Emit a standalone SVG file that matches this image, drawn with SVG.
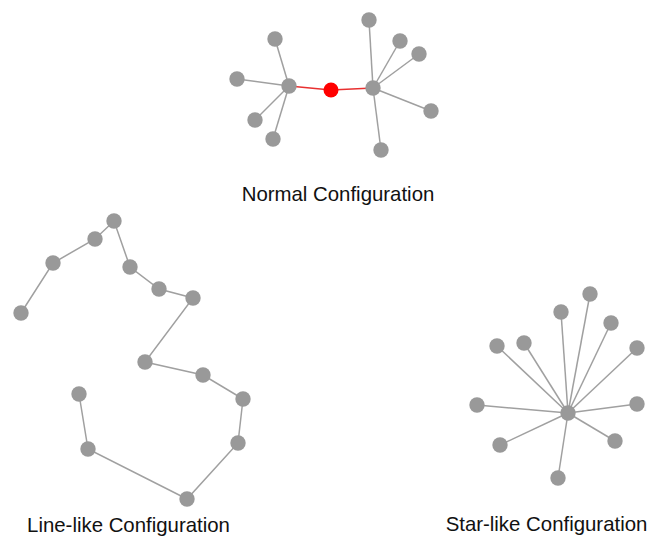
<svg xmlns="http://www.w3.org/2000/svg" width="650" height="538" viewBox="0 0 650 538">
<style>
.e{stroke:#a0a0a0;stroke-width:1.5;fill:none}
.r{stroke:#e83030;stroke-width:1.3}
.n{fill:#999999}
.rn{fill:#ff0000}
.t{font-family:"Liberation Sans",Arial,sans-serif;font-size:20.4px;fill:#111;text-anchor:middle}
</style>
<rect width="650" height="538" fill="#ffffff"/>
<g id="connectors">
<line class="r" x1="289" y1="86" x2="331" y2="90"/>
<line class="r" x1="331" y1="90" x2="373" y2="88"/>
<line class="e" x1="289" y1="86" x2="275" y2="39"/>
<line class="e" x1="289" y1="86" x2="237" y2="79"/>
<line class="e" x1="289" y1="86" x2="255" y2="120"/>
<line class="e" x1="289" y1="86" x2="273" y2="139"/>
<line class="e" x1="373" y1="88" x2="369" y2="20"/>
<line class="e" x1="373" y1="88" x2="400" y2="41"/>
<line class="e" x1="373" y1="88" x2="419" y2="54"/>
<line class="e" x1="373" y1="88" x2="431" y2="111"/>
<line class="e" x1="373" y1="88" x2="381" y2="150"/>
<polyline class="e" points="21,313 53,263 95,239 114,221 130,267 159,289 193,298 145,362 203,375 243,399 238,443 187,499 88,449 79,394"/>
<line class="e" x1="568" y1="413" x2="590" y2="294"/>
<line class="e" x1="568" y1="413" x2="561" y2="312"/>
<line class="e" x1="568" y1="413" x2="611" y2="323"/>
<line class="e" x1="568" y1="413" x2="497" y2="346"/>
<line class="e" x1="568" y1="413" x2="524" y2="343"/>
<line class="e" x1="568" y1="413" x2="637" y2="348"/>
<line class="e" x1="568" y1="413" x2="477" y2="405"/>
<line class="e" x1="568" y1="413" x2="637" y2="404"/>
<line class="e" x1="568" y1="413" x2="500" y2="445"/>
<line class="e" x1="568" y1="413" x2="615" y2="441"/>
<line class="e" x1="568" y1="413" x2="558" y2="478"/>
</g>
<g id="normal">
<g id="n-hub-left"><circle class="n" cx="289" cy="86" r="7.7"/></g>
<g id="n-red"><circle class="rn" cx="331" cy="90" r="7.5"/></g>
<g id="n-hub-right"><circle class="n" cx="373" cy="88" r="7.7"/></g>
<g id="n-l1"><circle class="n" cx="275" cy="39" r="7.7"/></g>
<g id="n-l2"><circle class="n" cx="237" cy="79" r="7.7"/></g>
<g id="n-l3"><circle class="n" cx="255" cy="120" r="7.7"/></g>
<g id="n-l4"><circle class="n" cx="273" cy="139" r="7.7"/></g>
<g id="n-r1"><circle class="n" cx="369" cy="20" r="7.7"/></g>
<g id="n-r2"><circle class="n" cx="400" cy="41" r="7.7"/></g>
<g id="n-r3"><circle class="n" cx="419" cy="54" r="7.7"/></g>
<g id="n-r4"><circle class="n" cx="431" cy="111" r="7.7"/></g>
<g id="n-r5"><circle class="n" cx="381" cy="150" r="7.7"/></g>
<text class="t" x="338" y="201">Normal Configuration</text>
</g>
<g id="line">
<g id="c1"><circle class="n" cx="21" cy="313" r="7.7"/></g>
<g id="c2"><circle class="n" cx="53" cy="263" r="7.7"/></g>
<g id="c3"><circle class="n" cx="95" cy="239" r="7.7"/></g>
<g id="c4"><circle class="n" cx="114" cy="221" r="7.7"/></g>
<g id="c5"><circle class="n" cx="130" cy="267" r="7.7"/></g>
<g id="c6"><circle class="n" cx="159" cy="289" r="7.7"/></g>
<g id="c7"><circle class="n" cx="193" cy="298" r="7.7"/></g>
<g id="c8"><circle class="n" cx="145" cy="362" r="7.7"/></g>
<g id="c9"><circle class="n" cx="203" cy="375" r="7.7"/></g>
<g id="c10"><circle class="n" cx="243" cy="399" r="7.7"/></g>
<g id="c11"><circle class="n" cx="238" cy="443" r="7.7"/></g>
<g id="c12"><circle class="n" cx="187" cy="499" r="7.7"/></g>
<g id="c13"><circle class="n" cx="88" cy="449" r="7.7"/></g>
<g id="c14"><circle class="n" cx="79" cy="394" r="7.7"/></g>
<text class="t" x="128.5" y="532">Line-like Configuration</text>
</g>
<g id="star">
<g id="s-hub"><circle class="n" cx="568" cy="413" r="7.7"/></g>
<g id="s1"><circle class="n" cx="590" cy="294" r="7.7"/></g>
<g id="s2"><circle class="n" cx="561" cy="312" r="7.7"/></g>
<g id="s3"><circle class="n" cx="611" cy="323" r="7.7"/></g>
<g id="s4"><circle class="n" cx="497" cy="346" r="7.7"/></g>
<g id="s5"><circle class="n" cx="524" cy="343" r="7.7"/></g>
<g id="s6"><circle class="n" cx="637" cy="348" r="7.7"/></g>
<g id="s7"><circle class="n" cx="477" cy="405" r="7.7"/></g>
<g id="s8"><circle class="n" cx="637" cy="404" r="7.7"/></g>
<g id="s9"><circle class="n" cx="500" cy="445" r="7.7"/></g>
<g id="s10"><circle class="n" cx="615" cy="441" r="7.7"/></g>
<g id="s11"><circle class="n" cx="558" cy="478" r="7.7"/></g>
<text class="t" x="546.5" y="531">Star-like Configuration</text>
</g>
</svg>
